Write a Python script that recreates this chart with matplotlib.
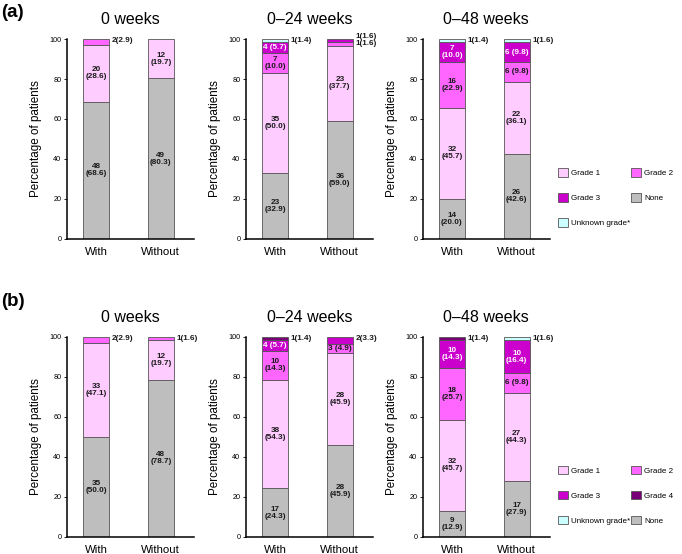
import matplotlib
matplotlib.use("Agg")
import matplotlib.pyplot as plt
from matplotlib.patches import Patch

plt.rcParams["font.family"] = ["Liberation Sans", "DejaVu Sans"]

# ----------------------------------------------------------
# data, segments bottom -> top
# ----------------------------------------------------------
grades = ["None", "Grade 1", "Grade 2", "Grade 3", "Grade 4", "Unknown grade*"]
periods = ["0 weeks", "0\u201324 weeks", "0\u201348 weeks"]
groups = ["With", "Without"]

a_with_n = [[48, 20, 2, 0, 0, 0], [23, 35, 7, 4, 0, 1], [14, 32, 16, 7, 0, 1]]
a_with_pct = [[68.6, 28.6, 2.9, 0, 0, 0], [32.9, 50.0, 10.0, 5.7, 0, 1.4],
              [20.0, 45.7, 22.9, 10.0, 0, 1.4]]
a_without_n = [[49, 12, 0, 0, 0, 0], [36, 23, 1, 1, 0, 0], [26, 22, 6, 6, 0, 1]]
a_without_pct = [[80.3, 19.7, 0, 0, 0, 0], [59.0, 37.7, 1.6, 1.6, 0, 0],
                 [42.6, 36.1, 9.8, 9.8, 0, 1.6]]

b_with_n = [[35, 33, 2, 0, 0, 0], [17, 38, 10, 4, 1, 0], [9, 32, 18, 10, 1, 0]]
b_with_pct = [[50.0, 47.1, 2.9, 0, 0, 0], [24.3, 54.3, 14.3, 5.7, 1.4, 0],
              [12.9, 45.7, 25.7, 14.3, 1.4, 0]]
b_without_n = [[48, 12, 1, 0, 0, 0], [28, 28, 3, 2, 0, 0], [17, 27, 6, 10, 0, 1]]
b_without_pct = [[78.7, 19.7, 1.6, 0, 0, 0], [45.9, 45.9, 4.9, 3.3, 0, 0],
                 [27.9, 44.3, 9.8, 16.4, 0, 1.6]]

colors = {
    "None": "#bebebe",
    "Grade 1": "#ffccff",
    "Grade 2": "#ff66ff",
    "Grade 3": "#cc00cc",
    "Grade 4": "#7a0077",
    "Unknown grade*": "#ccffff",
}
white_text = {"Grade 3", "Grade 4"}

# ----------------------------------------------------------
# figure
# ----------------------------------------------------------
fig = plt.figure(figsize=(6.82, 5.54), dpi=100)

lefts = [0.0982, 0.3607, 0.620]
ax_w = 0.186
rows = [
    (0.5686, a_with_n, a_with_pct, a_without_n, a_without_pct),
    (0.0307, b_with_n, b_with_pct, b_without_n, b_without_pct),
]
ax_h = 0.361
bar_w = 0.4
lab_fs = 5.9


def draw_bar(ax, x, counts, pcts):
    bottom = 0
    outside = []
    for g, n, p in zip(grades, counts, pcts):
        if n == 0:
            continue
        ax.bar(x, p, bottom=bottom, width=bar_w, color=colors[g],
               edgecolor="#555555", linewidth=0.6)
        tc = "white" if g in white_text else "#1a1a1a"
        if p < 3.5:
            outside.append(f"{n}({p:.1f})")
        elif p < 10:
            ax.text(x, bottom + p / 2, f"{n} ({p:.1f})", ha="center",
                    va="center", fontsize=lab_fs, fontweight="bold", color=tc)
        else:
            ax.text(x, bottom + p / 2, f"{n}\n({p:.1f})", ha="center",
                    va="center", fontsize=lab_fs, fontweight="bold", color=tc,
                    linespacing=1.0)
        bottom += p
    # small segments labelled to the right, top one first
    outside = outside[::-1]
    k = len(outside)
    for i, lab in enumerate(outside):
        y = 99.3 + 1.75 * (k - 1) - 3.5 * i
        ax.text(x + bar_w / 2 + 0.04, y, lab, ha="left", va="center",
                fontsize=lab_fs, fontweight="bold", color="#1a1a1a")


for bottom_y, wn, wp, won, wop in rows:
    for j, period in enumerate(periods):
        ax = fig.add_axes([lefts[j], bottom_y, ax_w, ax_h])
        draw_bar(ax, 0, wn[j], wp[j])
        draw_bar(ax, 1, won[j], wop[j])

        ax.set_xlim(-0.45, 1.51)
        ax.set_ylim(0, 100)
        ax.set_xticks([0, 1])
        ax.set_xticklabels(groups, fontsize=8.2)
        ax.tick_params(axis="x", length=0, pad=6)
        ax.set_yticks([0, 20, 40, 60, 80, 100])
        ax.tick_params(axis="y", labelsize=5.2, length=2, width=0.6, pad=2)
        ax.spines["top"].set_visible(False)
        ax.spines["right"].set_visible(False)
        ax.spines["left"].set_linewidth(1.1)
        ax.spines["bottom"].set_linewidth(1.1)
        ax.set_ylabel("Percentage of patients", fontsize=8.4, labelpad=5)
        ax.set_title(period, fontsize=11.5, pad=11)

# ----------------------------------------------------------
# panel letters
# ----------------------------------------------------------
fig.text(0.001, 0.992, "(a)", fontsize=13.5, fontweight="bold", va="top")
fig.text(0.001, 0.472, "(b)", fontsize=13.5, fontweight="bold", va="top")

# ----------------------------------------------------------
# legends (column-major order to get rows G1 G2 / G3 .. / Unknown ..)
# ----------------------------------------------------------
def handles(names):
    return [Patch(facecolor=colors[n], edgecolor="#555555", linewidth=0.6)
            for n in names]


leg_a = ["Grade 1", "Grade 3", "Unknown grade*", "Grade 2", "None"]
leg_b = ["Grade 1", "Grade 3", "Unknown grade*", "Grade 2", "Grade 4", "None"]

for names, anchor in [(leg_a, (0.818, 0.643)), (leg_b, (0.818, 0.106))]:
    fig.legend(handles(names), names, loc="center left",
               bbox_to_anchor=anchor, ncol=2, frameon=False, fontsize=5.8,
               handlelength=1.25, handleheight=1.25, handletextpad=0.4,
               labelspacing=2.0, columnspacing=0.1, borderpad=0,
               borderaxespad=0)

fig.savefig("out.png", dpi=100)
